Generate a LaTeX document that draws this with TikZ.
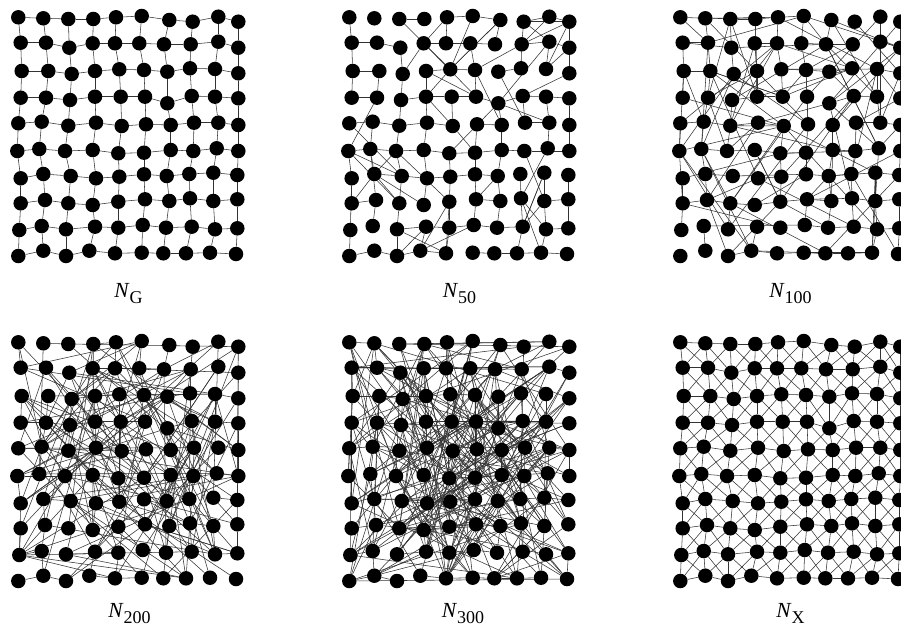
\documentclass[tikz,border=0pt]{standalone}
\usepackage{fontspec}
\setmainfont{Liberation Serif}
\usetikzlibrary{backgrounds}
\tikzset{
  dot/.style={circle,fill=black,draw=none,inner sep=0pt,minimum size=14.5pt},
  edge/.style={draw=black!80,line width=0.55pt},
  lbl/.style={anchor=base,inner sep=0pt}
}
\def\nodepos{%
18.3/17.3,43.3/18.3,68.3/19,93.3/19,116/17.3,141.7/16,169.3/20,192.7/21.7,218.3/16.7,238.3/21.7,%
20.7/42.7,46/42.7,69.3/47.7,92.7/43.3,115/43.3,139.3/43.3,164/44.3,190.7/44.3,218.3/41.7,238.3/47.7,%
21.7/71,48.3/71,71.7/74,95/71,119.3/69.3,144/70,167.3/71.7,190/68.3,215/69,238.3/73.3,%
20.7/97.7,46/97.7,70/100,95/96.7,120.7/96.7,145/96.7,167.3/103.3,191.7/96,215/96.7,238.3/98.3,%
18.3/123.3,41.7/121.7,68.3/125.7,96/122.7,121.7/126,146/124.3,170.7/125,194/122.7,218.3/122.7,238.3/125,%
17.3/151,39.3/149,65/151,92.7/150,118.3/153.3,144/152.7,170.7/150,193.3/151,216.7/148.3,238.3/151,%
20.7/178.3,43.3/174,70.7/176,96/178.3,119.3/176.7,144/174.3,166.7/176,189.3/174,213.3/172.7,237.3/175,%
20.7/203.3,45/200,68.3/203.3,92.7/205,118.3/201.7,145/199.3,169.3/201,190/198.3,213.3/201,237.3/199.3,%
19.3/230,41.7/226,66/229.3,95/226.7,118.3/227.7,142.7/225,166/227.7,191.7/226.7,215/229.3,237.3/228.3,%
18.3/256,43.3/250.7,66/256,89.3/250.7,115/253.3,141.7/252.7,163.3/253.3,186/253.3,210/252.7,236/254}
% place the 10x10 dots of one network
\newcommand\placenet[3]{%
  \foreach \xx/\yy [count=\i from 0] in \nodepos {%
    \pgfmathtruncatemacro\rr{floor(\i/10)}%
    \pgfmathtruncatemacro\cc{mod(\i,10)}%
    \node[dot] (#1-\rr-\cc) at (\xx+#2,\yy+#3) {};
  }}
% lattice edges kept with probability #2
\newcommand\gridedges[2]{%
  \begin{pgfonlayer}{background}
  \foreach \ra in {0,...,9}{\foreach \ca in {0,...,8}{%
    \pgfmathtruncatemacro\cn{\ca+1}%
    \pgfmathtruncatemacro\keep{ifthenelse(rnd<#2,1,0)}%
    \ifnum\keep=1 \draw[edge] (#1-\ra-\ca) -- (#1-\ra-\cn);\fi
    \pgfmathtruncatemacro\keep{ifthenelse(rnd<#2,1,0)}%
    \ifnum\keep=1 \draw[edge] (#1-\ca-\ra) -- (#1-\cn-\ra);\fi
  }}
  \end{pgfonlayer}}
% both diagonals of every cell
\newcommand\diagedges[1]{%
  \begin{pgfonlayer}{background}
  \foreach \ra in {0,...,8}{\foreach \ca in {0,...,8}{%
    \pgfmathtruncatemacro\rn{\ra+1}%
    \pgfmathtruncatemacro\cn{\ca+1}%
    \draw[edge] (#1-\ra-\ca) -- (#1-\rn-\cn);
    \draw[edge] (#1-\ra-\cn) -- (#1-\rn-\ca);
  }}
  \end{pgfonlayer}}
% #2 random edges of reach at most #3 cells
\newcommand\randedges[3]{%
  \begin{pgfonlayer}{background}
  \foreach \n in {1,...,#2}{%
    \pgfmathrandominteger{\ra}{0}{9}%
    \pgfmathrandominteger{\ca}{0}{9}%
    \pgfmathtruncatemacro\rlo{max(0,\ra-#3)}%
    \pgfmathtruncatemacro\rhi{min(9,\ra+#3)}%
    \pgfmathtruncatemacro\clo{max(0,\ca-#3)}%
    \pgfmathtruncatemacro\chi{min(9,\ca+#3)}%
    \pgfmathrandominteger{\rb}{\rlo}{\rhi}%
    \pgfmathrandominteger{\cb}{\clo}{\chi}%
    \pgfmathtruncatemacro\dist{abs(\rb-\ra)+abs(\cb-\ca)}%
    \ifnum\dist>1 \draw[edge] (#1-\ra-\ca) -- (#1-\rb-\cb);\fi
  }
  \end{pgfonlayer}}
\newcommand\labN[1]{\fontsize{21.5}{24}\selectfont\textit{N}\raisebox{-5.5pt}{\fontsize{18}{20}\selectfont #1}}
\begin{document}
\begin{tikzpicture}[x=1pt,y=-1pt]
\useasboundingbox (0,0) rectangle (901,631);
\clip (0,0) rectangle (901,631);
% N_G
\placenet{g}{0}{0}
\gridedges{g}{1.1}
% N_50
\placenet{a}{331}{0}
\pgfmathsetseed{4711}
\gridedges{a}{0.72}
\randedges{a}{60}{2}
% N_100
\placenet{b}{662}{0}
\pgfmathsetseed{2024}
\gridedges{b}{0.55}
\randedges{b}{110}{4}
% N_200
\placenet{c}{0}{325}
\pgfmathsetseed{777}
\gridedges{c}{0.4}
\randedges{c}{175}{7}
% N_300
\placenet{d}{331}{325}
\pgfmathsetseed{31337}
\gridedges{d}{0.33}
\randedges{d}{250}{9}
% N_X
\placenet{x}{662}{325}
\gridedges{x}{1.1}
\diagedges{x}
% labels
\node[lbl] (lg) at (128.5,297.5) {\labN{G}};
\node[lbl] (la) at (459.5,297.5) {\labN{50}};
\node[lbl] (lb) at (790.5,297.5) {\labN{100}};
\node[lbl] (lc) at (129.5,617.5) {\labN{200}};
\node[lbl] (ld) at (463,617.5) {\labN{300}};
\node[lbl] (lx) at (790.5,617.5) {\labN{X}};
\end{tikzpicture}
\end{document}
